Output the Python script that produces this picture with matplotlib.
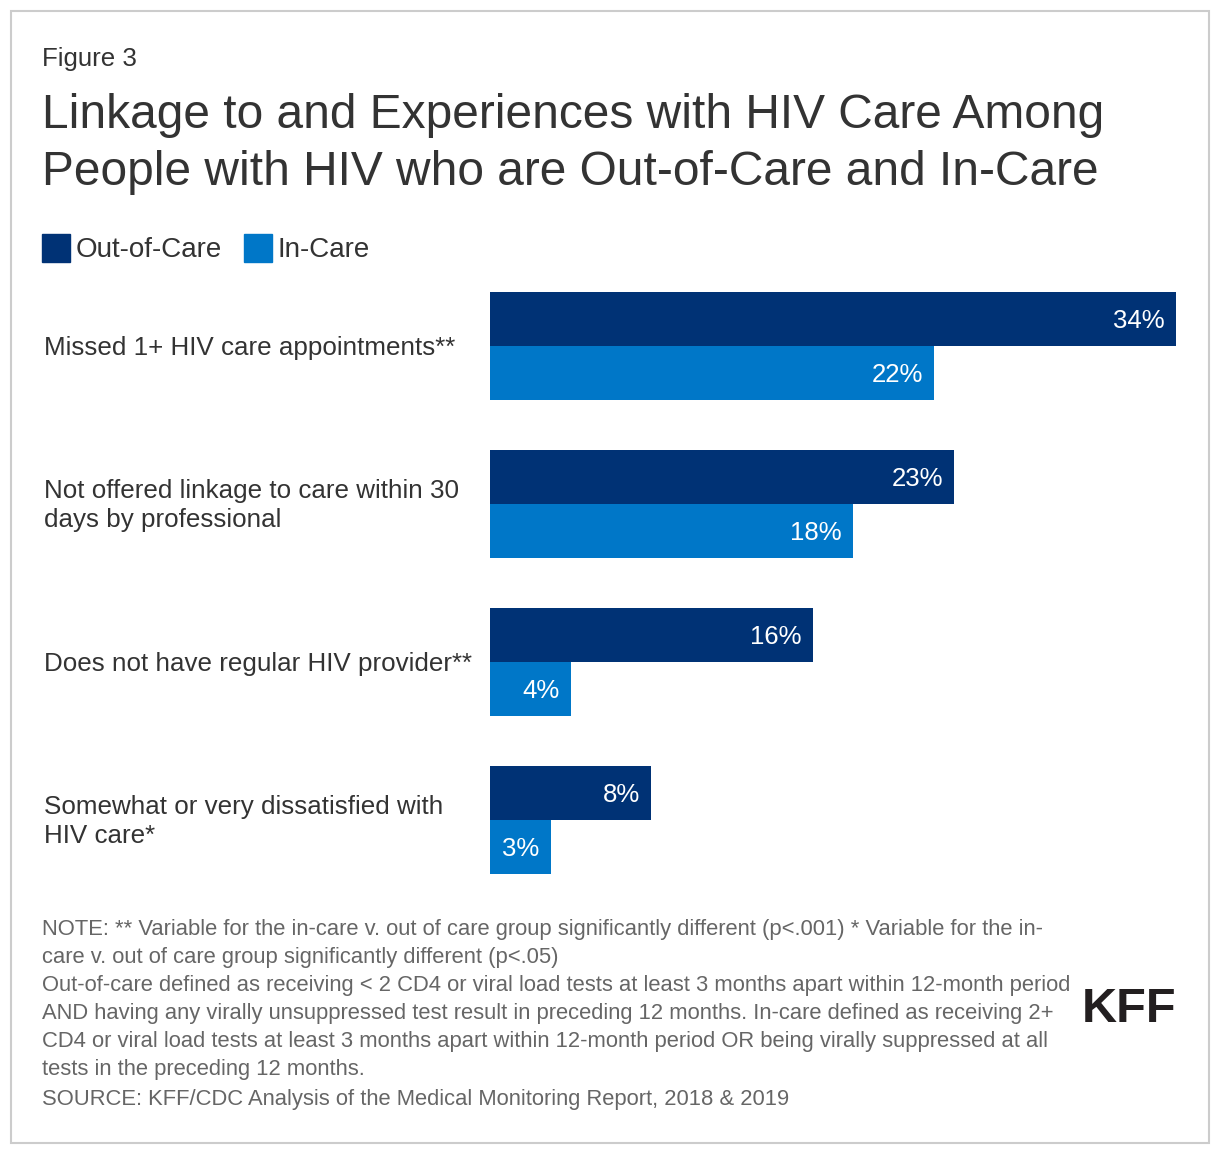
import matplotlib
matplotlib.use('Agg')
import numpy as np
import matplotlib.pyplot as plt
from matplotlib.patches import Rectangle

plt.rcParams['font.family'] = ['Liberation Sans', 'DejaVu Sans']

# data
categories = [
    "Missed 1+ HIV care appointments**",
    "Not offered linkage to care within 30\ndays by professional",
    "Does not have regular HIV provider**",
    "Somewhat or very dissatisfied with\nHIV care*",
]
out_of_care = [34, 23, 16, 8]
in_care = [22, 18, 4, 3]
series_names = ["Out-of-Care", "In-Care"]

note_lines = [
    "NOTE: ** Variable for the in-care v. out of care group significantly different (p<.001) * Variable for the in-",
    "care v. out of care group significantly different (p<.05)",
    "Out-of-care defined as receiving < 2 CD4 or viral load tests at least 3 months apart within 12-month period",
    "AND having any virally unsuppressed test result in preceding 12 months. In-care defined as receiving 2+",
    "CD4 or viral load tests at least 3 months apart within 12-month period OR being virally suppressed at all",
    "tests in the preceding 12 months.",
    "SOURCE: KFF/CDC Analysis of the Medical Monitoring Report, 2018 & 2019",
]

NAVY = "#003275"
BLUE = "#0077c8"
TEXT = "#333333"
GRAY = "#666666"

W, H = 1220, 1156
fig = plt.figure(figsize=(W / 100, H / 100), dpi=100)


def fx(px):
    return px / W


def fy(py):
    return 1 - py / H


# outer border
fig.patches.append(Rectangle((fx(11), fy(1143)), fx(1198), 1132 / H,
                             transform=fig.transFigure, fill=False,
                             edgecolor="#cccccc", linewidth=1.5))

fig.text(fx(42), fy(66), "Figure 3", fontsize=18.6, color=TEXT, va="baseline")
fig.text(fx(42), fy(128), "Linkage to and Experiences with HIV Care Among",
         fontsize=34.5, color=TEXT, va="baseline")
fig.text(fx(42), fy(185), "People with HIV who are Out-of-Care and In-Care",
         fontsize=34.5, color=TEXT, va="baseline")

# legend, drawn by hand so the squares sit exactly at the left margin
legend_x = [42, 244]
for name, col, lx in zip(series_names, [NAVY, BLUE], legend_x):
    fig.patches.append(Rectangle((fx(lx), fy(262)), fx(28), 28 / H,
                                 transform=fig.transFigure, color=col))
    fig.text(fx(lx + 34), fy(250), name, fontsize=20, color=TEXT, va="center")

# bars
top, bottom = 292, 874
ax = fig.add_axes([fx(490), fy(bottom), fx(1176) - fx(490), (bottom - top) / H])
bh = 54 / 158
y = np.arange(len(categories))
ax.barh(y - bh / 2, out_of_care, height=bh, color=NAVY)
ax.barh(y + bh / 2, in_care, height=bh, color=BLUE)
ax.set_xlim(0, max(out_of_care))
ax.set_ylim(len(categories) - 1 + bh, -bh)
ax.axis("off")

for i in range(len(categories)):
    ax.annotate(f"{out_of_care[i]}%", (out_of_care[i], y[i] - bh / 2),
                xytext=(-8, -1.5), textcoords="offset points", ha="right",
                va="center", color="white", fontsize=18.5)
    ax.annotate(f"{in_care[i]}%", (in_care[i], y[i] + bh / 2),
                xytext=(-8, -1.5), textcoords="offset points", ha="right",
                va="center", color="white", fontsize=18.5)
    ax.annotate(categories[i], (fx(44), y[i]),
                xycoords=("figure fraction", "data"),
                xytext=(0, -1.2), textcoords="offset points",
                ha="left", va="center",
                color=TEXT, fontsize=18.7, linespacing=1.26)

# notes
note_y = [929, 957, 985, 1013, 1041, 1069, 1099]
for line, yy in zip(note_lines, note_y):
    fig.text(fx(42), fy(yy), line, fontsize=15.8, color=GRAY, va="center")

fig.text(fx(1176), fy(1010), "KFF", fontsize=35, fontweight="bold",
         color="#231f20", ha="right", va="center")

fig.savefig("out.png", dpi=100)
